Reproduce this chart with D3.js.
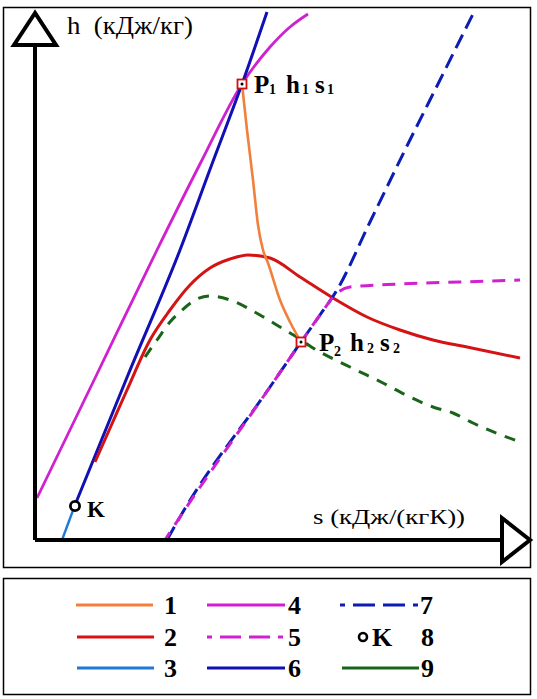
<!DOCTYPE html>
<html><head><meta charset="utf-8">
<script src="https://cdn.jsdelivr.net/npm/d3@7"></script>
<style>body{margin:0;background:#fff}svg{display:block}</style>
</head><body>
<svg id="c" width="537" height="699"></svg>
<script>
// ---- data (s, h in arbitrary diagram units) ----
const curve1 = [[41.4,91.2],[42.4,82],[43.6,72],[44.6,63],[45.6,58],[46.6,55.4],[49,48],[51,43.6],[53.2,39.6]];
const curve2 = [[12,15.6],[15.2,22.8],[18.4,30],[23,40],[27,46],[31,51],[35,54.4],[39,56.2],[42.6,57],[47,56.4],[53,52.6],[59.6,48.4],[66.4,44.6],[73,42],[79.6,40],[86.4,38.6],[97,36.4]];
const curve3 = [[5.4,0],[8,7]];
const curve4 = [[0.4,8.4],[12.4,33.2],[24.4,58],[33,75.2],[41.4,91.2],[47,98.6],[51,102.6],[54.6,105.2]];
const curve5 = [[26,0],[29,4.6],[47,30.6],[53.2,39.6],[57,45],[60.4,49.4],[63,50.6],[73,51.2],[85,51.6],[97,52]];
const curve6 = [[8,7],[18.6,33],[29,58],[35.4,75.2],[41.4,91.2],[46.4,105.6]];
const curve7 = [[26.4,0],[29,4.6],[47,30.6],[53.2,39.6],[57,45],[60.4,50],[67,63.6],[74,78],[81,92],[88,106]];
const curve9 = [[22,36.6],[24.4,40],[27,43.6],[29,45.6],[32.4,48.2],[35,48.8],[39,48],[45,45],[50,42],[53,40.2],[55,38.8],[63,34.6],[69.6,31.4],[75,28.6],[79.6,26.6],[83.6,25.4],[87.6,23.4],[97,19.6]];
const pointK = [8, 6.8];
const pointP1 = [41.4, 91.2];
const pointP2 = [53.2, 39.6];
const legendLabels = ["1","2","3","4","5","6","7","8","9"];
const axisLabelH = "h  (кДж/кг)";
const axisLabelS = "s (кДж/(кгК))";

const col = {c1:"#f0803c", c2:"#d41414", c3:"#1e78d8", c4:"#d020d0", c5:"#d020d0", c6:"#1010b4", c7:"#0c1cb4", c9:"#1a641a"};
const serif = "'Liberation Serif', 'Times New Roman', serif";

const svg = d3.select("#c");
svg.append("rect").attr("width",537).attr("height",699).attr("fill","#fff");

const x = d3.scaleLinear().domain([0,100]).range([35,535]);
const y = d3.scaleLinear().domain([0,110]).range([540,-10]);

// frames
svg.append("rect").attr("x",3.5).attr("y",7.5).attr("width",527).attr("height",560)
  .attr("fill","none").attr("stroke","#000").attr("stroke-width",1.5);
svg.append("rect").attr("x",3.5).attr("y",578.5).attr("width",527).attr("height",116)
  .attr("fill","none").attr("stroke","#000").attr("stroke-width",1.5);

const line = d3.line().x(d=>x(d[0])).y(d=>y(d[1])).curve(d3.curveMonotoneX);

const series = [
  {d:curve4, c:col.c4, w:2.8},
  {d:curve6, c:col.c6, w:3},
  {d:curve3, c:col.c3, w:2.4},
  {d:curve2, c:col.c2, w:3},
  {d:curve9, c:col.c9, w:3, dash:"11,9"},
  {d:curve7, c:col.c7, w:3, dash:"15,7"},
  {d:curve5, c:col.c5, w:3, dash:"13,9", off:4},
  {d:curve1, c:col.c1, w:2.6}
];
series.forEach(s=>{
  svg.append("path").attr("d",line(s.d)).attr("fill","none").attr("stroke",s.c)
    .attr("stroke-width",s.w).attr("stroke-dasharray",s.dash||null)
    .attr("stroke-dashoffset",s.off||0).attr("stroke-linecap","butt");
});

// axes
const ax = svg.append("g").attr("stroke","#000").attr("stroke-width",4).attr("fill","none");
ax.append("line").attr("x1",x(0)).attr("y1",y(0)).attr("x2",x(0)).attr("y2",y(99));
ax.append("line").attr("x1",x(0)).attr("y1",y(0)).attr("x2",x(93.4)).attr("y2",y(0));
ax.append("path").attr("stroke-linejoin","miter")
  .attr("d",`M${x(0)},${y(105.4)} L${x(-4.2)},${y(99)} L${x(4.2)},${y(99)} Z`).attr("fill","#fff");
ax.append("path").attr("stroke-linejoin","miter")
  .attr("d",`M${x(99)},${y(0)} L${x(93.4)},${y(4.4)} L${x(93.4)},${y(-4.4)} Z`).attr("fill","#fff");

// axis labels
svg.append("text").attr("x",67).attr("y",34).attr("font-family",serif)
  .attr("font-size",25).attr("textLength",126).attr("lengthAdjust","spacingAndGlyphs")
  .attr("xml:space","preserve").style("white-space","pre").text(axisLabelH);
svg.append("text").attr("x",313).attr("y",524).attr("font-family",serif)
  .attr("font-size",21).attr("textLength",152).attr("lengthAdjust","spacingAndGlyphs").text(axisLabelS);

// K point
svg.append("circle").attr("cx",x(pointK[0])).attr("cy",y(pointK[1])).attr("r",4.6)
  .attr("fill","#fff").attr("stroke","#000").attr("stroke-width",2.8);
svg.append("text").attr("x",87).attr("y",517).attr("font-family",serif)
  .attr("font-weight","bold").attr("font-size",23).text("K");

// P markers
[pointP1, pointP2].forEach(p=>{
  svg.append("rect").attr("x",x(p[0])-4.5).attr("y",y(p[1])-4.5).attr("width",9).attr("height",9)
    .attr("fill","#fff").attr("stroke","#d01010").attr("stroke-width",1.8);
  svg.append("circle").attr("cx",x(p[0])).attr("cy",y(p[1])).attr("r",1.5).attr("fill","#000");
});

function subLabel(parts, yb){
  parts.forEach(pt=>{
    svg.append("text").attr("x",pt[1]).attr("y",yb + (pt[2]?pt[3]:0))
      .attr("font-family",serif).attr("font-weight","bold")
      .attr("font-size",pt[2]?14:25).text(pt[0]);
  });
}
subLabel([["P",254],["1",269,true,1],["h",286],["1",302,true,1],["s",315],["1",327,true,1]], 93);
subLabel([["P",319],["2",334,true,5],["h",350],["2",367,true,2],["s",380],["2",393,true,2]], 351);

// legend
const legItems = [
  {x1:76,x2:153,y:605,c:col.c1,t:legendLabels[0],tx:164},
  {x1:77,x2:154,y:637,c:col.c2,t:legendLabels[1],tx:164},
  {x1:77,x2:154,y:668,c:col.c3,t:legendLabels[2],tx:164},
  {x1:207,x2:285,y:605,c:col.c4,t:legendLabels[3],tx:288},
  {x1:207,x2:285,y:637,c:col.c5,t:legendLabels[4],tx:288,dash:"5,8,21,8,21,8,5"},
  {x1:207,x2:285,y:668,c:col.c6,t:legendLabels[5],tx:288},
  {x1:340,x2:418,y:605,c:col.c7,t:legendLabels[6],tx:420,dash:"5,8,22,8,22,8,5"},
  {x1:342,x2:419,y:668,c:col.c9,t:legendLabels[8],tx:421}
];
legItems.forEach(l=>{
  svg.append("line").attr("x1",l.x1).attr("x2",l.x2).attr("y1",l.y).attr("y2",l.y)
    .attr("stroke",l.c).attr("stroke-width",3).attr("stroke-dasharray",l.dash||null);
  svg.append("text").attr("x",l.tx).attr("y",l.y+9).attr("font-family",serif)
    .attr("font-weight","bold").attr("font-size",26).text(l.t);
});
svg.append("circle").attr("cx",363).attr("cy",637).attr("r",4).attr("fill","#fff")
  .attr("stroke","#000").attr("stroke-width",2.6);
svg.append("text").attr("x",372).attr("y",646).attr("font-family",serif)
  .attr("font-weight","bold").attr("font-size",26).text("K");
svg.append("text").attr("x",421).attr("y",646).attr("font-family",serif)
  .attr("font-weight","bold").attr("font-size",26).text(legendLabels[7]);
</script>
</body></html>
